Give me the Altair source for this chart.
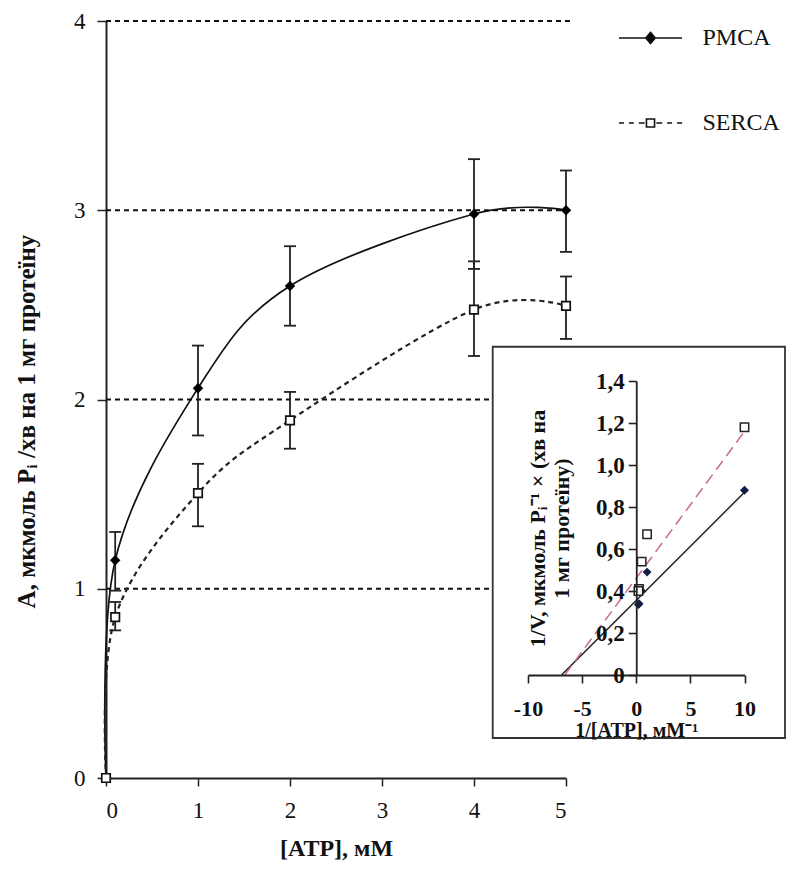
import altair as alt
import pandas as pd

FONT = "Liberation Serif"
FONT_LEG = "Liberation Serif"

# ---------------- main panel data ----------------
atp = [0, 0.1, 1, 2, 4, 5]
pmca = [0, 1.15, 2.06, 2.60, 2.98, 3.00]
pmca_lo = [0, 0.99, 1.81, 2.39, 2.69, 2.78]
pmca_hi = [0, 1.30, 2.285, 2.81, 3.27, 3.21]
serca = [0, 0.85, 1.505, 1.89, 2.475, 2.495]
serca_lo = [0, 0.78, 1.33, 1.74, 2.23, 2.32]
serca_hi = [0, 0.93, 1.66, 2.04, 2.73, 2.65]
grid_vals = [1, 2, 3, 4]

# ---------------- inset (Lineweaver-Burk) data ----------------
inv_atp = [10, 1, 0.5, 0.25, 0.2]
inv_pmca = [0.88, 0.49, 0.40, 0.34, 0.335]
inv_serca = [1.18, 0.67, 0.54, 0.41, 0.40]
fit_x_pmca = [-6.9, 10]
fit_y_pmca = [0, 0.87]
fit_x_serca = [-6.6, 10]
fit_y_serca = [0, 1.16]

series_names = ["PMCA", "SERCA"]

W, H = 460, 757

main_df = pd.DataFrame({
    "atp": atp * 2,
    "val": pmca + serca,
    "lo": pmca_lo + serca_lo,
    "hi": pmca_hi + serca_hi,
    "series": ["PMCA"] * len(atp) + ["SERCA"] * len(atp),
})
eb_df = main_df[main_df["atp"] > 0]
grid_df = pd.DataFrame({"g": grid_vals})

xm_scale = alt.Scale(domain=[0, 5], nice=False, zero=False)
ym_scale = alt.Scale(domain=[0, 4], nice=False)
xm_axis = alt.Axis(values=[0, 1, 2, 3, 4, 5], grid=False, title="[ATP], мМ",
                   tickSize=8, labelPadding=13, titlePadding=14, titleFontSize=24,
                   domainColor="#222", tickColor="#222", domainWidth=2, tickWidth=1.5)
ym_axis = alt.Axis(values=[0, 1, 2, 3, 4], grid=False,
                   title="A, мкмоль Pᵢ /хв на 1 мг протеїну", titleFontSize=25,
                   titleY=400,
                   tickSize=9, labelPadding=12, titlePadding=34,
                   domainColor="#222", tickColor="#222", domainWidth=2, tickWidth=1.5)

X = alt.X("atp:Q", scale=xm_scale, axis=xm_axis)

grid = alt.Chart(grid_df).mark_rule(color="#111", strokeDash=[5, 4], strokeWidth=1.8).encode(
    y=alt.Y("g:Q", scale=ym_scale, axis=ym_axis),
    x=alt.datum(0, scale=xm_scale, axis=xm_axis),
    x2=alt.datum(5.05),
)

base = alt.Chart(main_df)
curve_p = base.transform_filter("datum.series == 'PMCA'").mark_line(
    interpolate="cardinal", color="#111", strokeWidth=1.7).encode(
    x=X, y=alt.Y("val:Q", scale=ym_scale, axis=ym_axis))
curve_s = base.transform_filter("datum.series == 'SERCA'").mark_line(
    interpolate="cardinal", color="#222", strokeWidth=2.2, strokeDash=[5, 4]).encode(
    x=X, y=alt.Y("val:Q", scale=ym_scale, axis=ym_axis))

eb = alt.Chart(eb_df)
eb_rule = eb.mark_rule(color="#222", strokeWidth=1.8).encode(
    x=X, y=alt.Y("lo:Q", scale=ym_scale, axis=ym_axis), y2="hi:Q")
cap_lo = eb.mark_tick(orient="horizontal", size=12, thickness=1.8, color="#222", opacity=1).encode(
    x=X, y=alt.Y("lo:Q", scale=ym_scale, axis=ym_axis))
cap_hi = eb.mark_tick(orient="horizontal", size=12, thickness=1.8, color="#222", opacity=1).encode(
    x=X, y=alt.Y("hi:Q", scale=ym_scale, axis=ym_axis))

pts_p = base.transform_filter("datum.series == 'PMCA'").mark_point(
    shape="diamond", filled=True, size=110, color="#000", opacity=1).encode(
    x=X, y=alt.Y("val:Q", scale=ym_scale, axis=ym_axis))
pts_s = base.transform_filter("datum.series == 'SERCA'").mark_point(
    shape="square", filled=False, fill="white", stroke="#111", strokeWidth=1.7,
    size=72, opacity=1).encode(
    x=X, y=alt.Y("val:Q", scale=ym_scale, axis=ym_axis))

main = alt.layer(grid, curve_p, curve_s, eb_rule, cap_lo, cap_hi, pts_p, pts_s)

# ---------------- inset ----------------
xi_scale = alt.Scale(domain=[-10, 10], range=[422, 638.5], nice=False, zero=False)
yi_scale = alt.Scale(domain=[0, 1.4], range=[654, 360], nice=False)
xi_axis = alt.Axis(orient="bottom", offset=-103, values=[-10, -5, 0, 5, 10], grid=False,
                   labelExpr="datum.value < 0 ? '-' + format(-datum.value, 'd') : format(datum.value, 'd')",
                   title="1/[ATP], мМ⁻¹", tickSize=8, labelPadding=15, titlePadding=1,
                   labelFontWeight="bold", labelFontSize=22, titleFontSize=20,
                   domainColor="#222", tickColor="#222", domainWidth=1.8, tickWidth=1.6,
                   zindex=2, labelFlush=False)
yi_axis = alt.Axis(orient="left", offset=-530.25, values=[0, 0.2, 0.4, 0.6, 0.8, 1.0, 1.2, 1.4],
                   grid=False,
                   labelExpr="datum.value == 0 ? '0' : replace(format(datum.value, '.1f'), '.', ',')",
                   title=["1/V, мкмоль Pᵢ⁻¹ × (хв на", "1 мг протеїну)"],
                   tickSize=8, labelPadding=4, titlePadding=22, titleLineHeight=24,
                   labelFontWeight="bold", labelFontSize=23, titleFontSize=22,
                   domainColor="#222", tickColor="#222", domainWidth=1.8, tickWidth=1.6,
                   zindex=2, labelFlush=False)

box = alt.Chart(grid_df.head(1)).mark_rect(fill="white", stroke="#333", strokeWidth=1.8).encode(
    x=alt.datum(-13.26, scale=xi_scale, axis=xi_axis),
    x2=alt.datum(13.74),
    y=alt.datum(1.563, scale=yi_scale, axis=yi_axis),
    y2=alt.datum(-0.30),
)

fit_df = pd.DataFrame({
    "fx": fit_x_pmca + fit_x_serca,
    "fy": fit_y_pmca + fit_y_serca,
    "series": ["PMCA"] * 2 + ["SERCA"] * 2,
})
inv_df = pd.DataFrame({
    "ix": inv_atp * 2,
    "iy": inv_pmca + inv_serca,
    "series": ["PMCA"] * len(inv_atp) + ["SERCA"] * len(inv_atp),
})

XI = lambda f: alt.X(f, scale=xi_scale, axis=xi_axis)
YI = lambda f: alt.Y(f, scale=yi_scale, axis=yi_axis)

fit_p = alt.Chart(fit_df).transform_filter("datum.series == 'PMCA'").mark_line(
    color="#222", strokeWidth=1.5).encode(x=XI("fx:Q"), y=YI("fy:Q"))
fit_s = alt.Chart(fit_df).transform_filter("datum.series == 'SERCA'").mark_line(
    color="#c8689a", strokeWidth=1.5, strokeDash=[11, 6]).encode(x=XI("fx:Q"), y=YI("fy:Q"))
ipts_p = alt.Chart(inv_df).transform_filter("datum.series == 'PMCA'").mark_point(
    shape="diamond", filled=True, size=80, color="#141c48", opacity=1).encode(
    x=XI("ix:Q"), y=YI("iy:Q"))
ipts_s = alt.Chart(inv_df).transform_filter("datum.series == 'SERCA'").mark_point(
    shape="square", filled=False, fill="white", stroke="#222", strokeWidth=1.5,
    size=70, opacity=1).encode(x=XI("ix:Q"), y=YI("iy:Q"))

inset = alt.layer(box, fit_p, fit_s, ipts_p, ipts_s)

# ---------------- legend ----------------
path_pmca = "M-7,0H7M0,-1.25L1.05,0L0,1.25L-1.05,0Z"
path_serca = ("M-7,0H-5.9M-4.8,0H-3.7M-2.6,0H-1.3M1.3,0H2.6M3.7,0H4.8M5.9,0H7"
              "M-0.9,-0.9H0.9V0.9H-0.9Z")
leg_df = pd.DataFrame({"series": series_names})


def leg():
    return alt.Legend(
        title=None, orient="none", legendX=532.5, legendY=5,
        symbolSize=81, symbolStrokeWidth=1.6,
        labelOffset=40, labelFontSize=24, labelFont=FONT_LEG,
        labelColor="#111", rowPadding=61, padding=0, symbolOpacity=1,
        labelLimit=200)


legend_layer = alt.Chart(leg_df).transform_filter("false").mark_point(
    filled=False, opacity=1, strokeWidth=1.6).encode(
    shape=alt.Shape("series:N",
                    scale=alt.Scale(domain=series_names, range=[path_pmca, path_serca]),
                    legend=leg()),
    fill=alt.Fill("series:N",
                  scale=alt.Scale(domain=series_names, range=["#000000", "#ffffff"]),
                  legend=leg()),
    stroke=alt.Stroke("series:N",
                      scale=alt.Scale(domain=series_names, range=["#111111", "#111111"]),
                      legend=leg()),
)

chart = alt.layer(main, inset, legend_layer).resolve_scale(
    x="independent", y="independent"
).properties(
    width=W, height=H,
    autosize=alt.AutoSizeParams(type="none"),
    padding={"left": 98, "top": 13, "right": 221, "bottom": 86},
).configure_view(stroke=None).configure_axis(
    labelFont=FONT, titleFont=FONT, labelFontSize=23, titleFontSize=22,
    labelColor="#111", titleColor="#111", titleFontWeight="bold",
)

chart.save("out.html", embed_options={"renderer": "svg", "actions": False})
